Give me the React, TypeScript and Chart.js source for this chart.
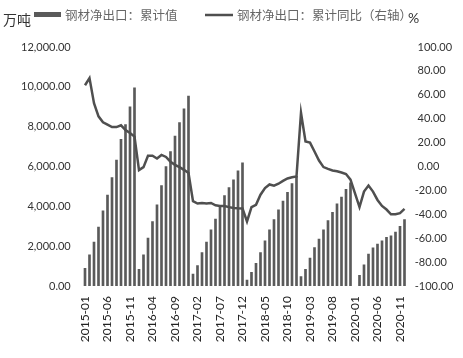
import React, { useEffect, useRef } from "react";
import { Chart, registerables } from "chart.js";

Chart.register(...registerables);

const years = [2015, 2016, 2017, 2018, 2019, 2020];
const months: string[] = [];
years.forEach((y) => {
  for (let m = 1; m <= 12; m++) months.push(`${y}-${m < 10 ? "0" + m : m}`);
});

const seriesNames = ["钢材净出口：累计值", "钢材净出口：累计同比（右轴）"];
const leftUnit = "万吨";
const rightUnit = "%";

const netExportCum: (number | null)[] = [
  890, 1560, 2200, 2960, 3780, 4570, 5440, 6320, 7360, 8110, 9000, 9950,
  840, 1560, 2400, 3240, 4070, 5040, 6000, 6750, 7530, 8200, 8900, 9540,
  600, 1020, 1680, 2200, 2820, 3360, 4000, 4540, 4940, 5330, 5780, 6180,
  300, 690, 1140, 1680, 2270, 2820, 3330, 3830, 4270, 4700, 5140, 5510,
  470, 840, 1400, 1930, 2360, 2820, 3280, 3700, 4120, 4470, 4860, 5180,
  null, 540, 1060, 1600, 1920, 2100, 2270, 2440, 2520, 2710, 2990, 3330,
];

const netExportYoY: (number | null)[] = [
  68, 74, 53, 42, 37, 35, 33, 33, 34.5, 30.5, 28, 25,
  -3, -0.5, 9, 9, 6.7, 9.7, 8, 4, 1.4, -0.5, -2.8, -5.5,
  -29, -31, -30.5, -31, -30.5, -32.5, -33, -33, -34, -34.7, -35, -35.2,
  -46, -34, -32, -23.6, -18, -15, -16, -14.4, -12, -10, -9, -8.3,
  45, 21, 20, 12.5, 5, -0.5, -2, -3.3, -4, -5, -6.3, -11,
  null, -34, -21, -16, -21, -28, -33, -36, -40, -40, -39, -35.5,
];

const barColor = "#5a5a5a";
const lineColor = "#4f4f4f";

const legendPlugin = {
  id: "customLegend",
  afterDraw(chart: any) {
    const ctx = chart.ctx;
    ctx.save();
    ctx.textBaseline = "middle";
    ctx.textAlign = "left";
    ctx.fillStyle = "#333";
    ctx.font = '14px "Noto Sans CJK SC"';
    ctx.fillText(leftUnit, 3, 20);
    ctx.fillStyle = barColor;
    ctx.fillRect(34, 12, 27, 5);
    ctx.fillStyle = "#666";
    ctx.font = '12.5px "Noto Sans CJK SC"';
    ctx.fillText(seriesNames[0], 65, 15);
    ctx.strokeStyle = lineColor;
    ctx.lineWidth = 2.5;
    ctx.beginPath();
    ctx.moveTo(205, 15);
    ctx.lineTo(233, 15);
    ctx.stroke();
    ctx.fillText(seriesNames[1], 237, 15);
    ctx.fillStyle = "#333";
    ctx.font = "14px Lato";
    ctx.fillText(rightUnit, 408, 18);
    ctx.restore();
  },
};

export default function App() {
  const ref = useRef<HTMLCanvasElement>(null);
  useEffect(() => {
    if (!ref.current) return;
    Chart.defaults.font.family = "Lato";
    const chart = new Chart(ref.current, {
      type: "bar",
      data: {
        labels: months,
        datasets: [
          {
            type: "line",
            label: seriesNames[1],
            data: netExportYoY,
            yAxisID: "y1",
            borderColor: lineColor,
            borderWidth: 2.5,
            pointRadius: 0,
            tension: 0,
            spanGaps: true,
            order: 0,
          } as any,
          {
            type: "bar",
            label: seriesNames[0],
            data: netExportCum,
            yAxisID: "y",
            backgroundColor: barColor,
            barThickness: 2,
            order: 1,
          },
        ],
      },
      plugins: [legendPlugin],
      options: {
        animation: false,
        responsive: true,
        maintainAspectRatio: false,
        layout: { padding: { top: 47, left: 0, right: 0, bottom: 0 } },
        plugins: { legend: { display: false }, tooltip: { enabled: false } },
        scales: {
          x: {
            grid: { display: false, drawTicks: false },
            border: { display: false },
            afterFit: (s: any) => {
              s.height = 72;
            },
            ticks: {
              autoSkip: false,
              minRotation: 90,
              maxRotation: 90,
              padding: 10,
              color: "#222",
              font: { size: 12 },
              callback: (_v: any, i: number) => (i % 5 === 0 ? months[i] : ""),
            },
          },
          y: {
            position: "left",
            min: 0,
            max: 12000,
            grid: { display: false, drawTicks: false },
            border: { display: false },
            afterFit: (s: any) => {
              s.width = 82.75;
            },
            ticks: {
              stepSize: 2000,
              padding: 12,
              color: "#333",
              font: { size: 11 },
              callback: (v: any) =>
                Number(v).toLocaleString("en-US", {
                  minimumFractionDigits: 2,
                  maximumFractionDigits: 2,
                }),
            },
          },
          y1: {
            position: "right",
            min: -100,
            max: 100,
            grid: { display: false, drawTicks: false },
            border: { display: false },
            afterFit: (s: any) => {
              s.width = 56.25;
            },
            ticks: {
              stepSize: 20,
              padding: 8,
              color: "#333",
              font: { size: 11 },
              callback: (v: any) => (Number(v) < 0 ? "" : " ") + Number(v).toFixed(2),
            },
          },
        },
      },
    });
    return () => chart.destroy();
  }, []);
  return (
    <div style={{ position: "absolute", left: 0, top: 0, width: 463, height: 358, background: "#fff" }}>
      <canvas ref={ref} />
    </div>
  );
}
